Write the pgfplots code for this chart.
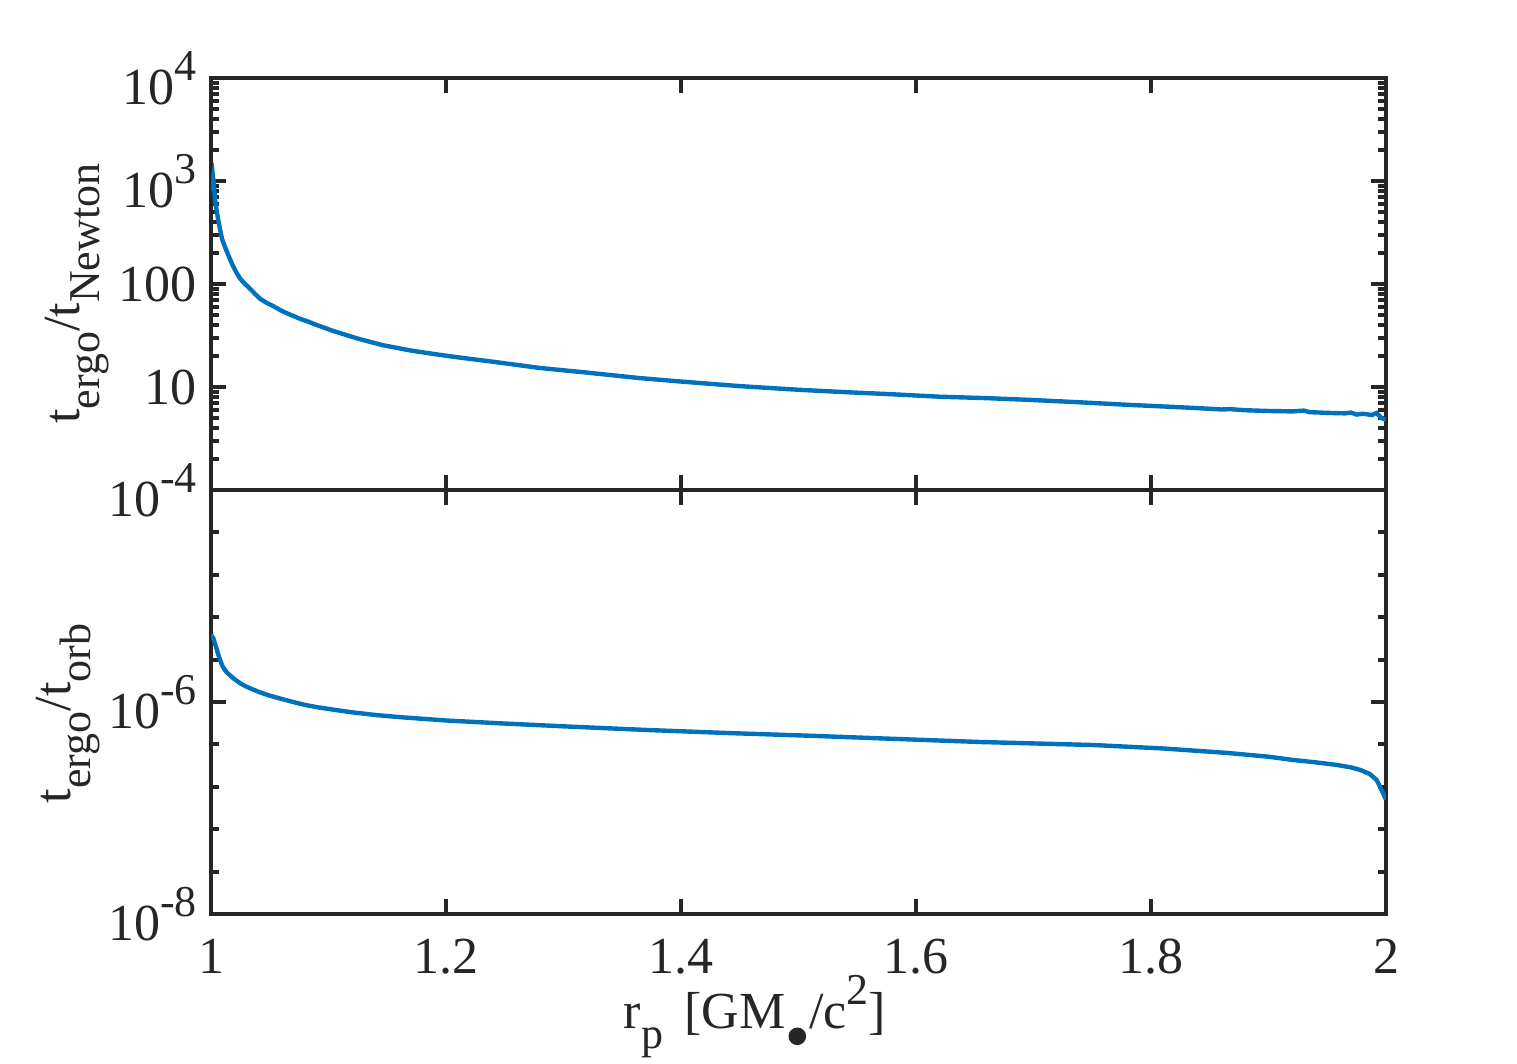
\documentclass[border=0pt]{standalone}
\usepackage{pgfplots}
\pgfplotsset{compat=1.18}
\usepackage{fontspec}
\setmainfont{Liberation Serif}
\definecolor{axgray}{HTML}{262626}
\definecolor{mblue}{HTML}{0072BD}
\newcommand{\sps}[1]{\raisebox{6pt}{\fontsize{11}{13}\selectfont #1}}
\newcommand{\sbs}[1]{\raisebox{-5pt}{\fontsize{11}{13}\selectfont #1}}
\newcommand{\subbullet}{\hspace{0.8pt}\smash{\raisebox{-4.25pt}{\tikz\fill[axgray] (0,0) circle (2.2pt);}}\hspace{0.8pt}}
\pgfplotsset{
  every axis/.append style={
    font=\fontsize{13}{15}\selectfont,
    scale only axis,
    anchor=south west,
    width=293.75pt,
    xmin=1, xmax=2,
    ymode=log,
    tick align=inside,
    xtick pos=both, ytick pos=both,
    major tick length=3.75pt,
    minor tick length=2pt,
    axis line style={draw=axgray, line width=1pt},
    every tick/.style={axgray, line width=1pt},
    every minor tick/.style={axgray, line width=1pt},
    tick label style={font=\fontsize{13}{15}\selectfont, text=axgray},
    label style={font=\fontsize{13}{15}\selectfont, text=axgray},
    /pgf/number format/assume math mode=true,
    xtick={1,1.2,1.4,1.6,1.8,2},
    clip=true,
  }
}
\begin{document}
\begin{tikzpicture}
% bottom panel
\begin{axis}[
  at={(52.75pt,37.25pt)},
  height=106pt,
  ymin=1e-8, ymax=1e-4,
  ytick={1e-8,1e-6,1e-4},
  yticklabels={10\sps{-8},10\sps{-6},10\sps{-4}},
  minor ytick={3.981e-5,1.585e-5,6.310e-6,2.512e-6,3.981e-7,1.585e-7,6.310e-8,2.512e-8},
  xticklabels={1,1.2,1.4,1.6,1.8,2},
  xticklabel style={yshift=-2.7pt},
  xlabel={r\sbs{p}\hspace{2pt} [GM\subbullet/c\sps{2}]},
  xlabel style={at={(axis description cs:0.463,-0.269)}, anchor=base, inner sep=1pt},
  ylabel={t\sbs{ergo}/t\sbs{orb}},
  ylabel style={at={(axis description cs:-0.12,0.473)}, anchor=base},
]
\addplot[mblue, line width=1.1pt] coordinates {
(1.0000,4.3e-6) (1.0020,4.0e-6) (1.0040,3.4e-6) (1.0060,2.85e-6) (1.0080,2.45e-6)
(1.0100,2.15e-6) (1.0130,1.93e-6) (1.0170,1.75e-6) (1.0210,1.61e-6) (1.0250,1.5e-6)
(1.0300,1.4e-6) (1.0360,1.31e-6) (1.0420,1.23e-6) (1.0500,1.15e-6) (1.0600,1.07e-6)
(1.0700,1.0e-6) (1.0800,9.4e-7) (1.0900,8.95e-7) (1.1050,8.45e-7) (1.1200,8.0e-7)
(1.1400,7.55e-7) (1.1610,7.2e-7) (1.2000,6.7e-7) (1.2460,6.3e-7)
(1.3000,5.9e-7) (1.3710,5.45e-7) (1.4400,5.1e-7) (1.5120,4.8e-7) (1.5800,4.5e-7)
(1.6540,4.2e-7) (1.7000,4.07e-7) (1.7510,3.93e-7) (1.8100,3.65e-7) (1.8650,3.31e-7)
(1.9000,3.05e-7) (1.9210,2.84e-7) (1.9400,2.7e-7) (1.9580,2.55e-7) (1.9700,2.42e-7)
(1.9780,2.29e-7) (1.9860,2.1e-7) (1.9920,1.84e-7) (1.9960,1.5e-7) (2.0000,1.2e-7)
};
\end{axis}
% top panel
\begin{axis}[
  at={(52.75pt,143.25pt)},
  height=103pt,
  ymin=1, ymax=1e4,
  ytick={1,10,100,1000,10000},
  yticklabels={,10,100,10\sps{3},10\sps{4}},
  minor ytick={2,3,4,5,6,7,8,9,20,30,40,50,60,70,80,90,200,300,400,500,600,700,800,900,2000,3000,4000,5000,6000,7000,8000,9000},
  xticklabels={},
  ylabel={t\sbs{ergo}/t\sbs{Newton}},
  ylabel style={at={(axis description cs:-0.1115,0.477)}, anchor=base},
]
\addplot[mblue, line width=1.1pt] coordinates {
(1.0000,800) (1.0010,1000) (1.0017,1100) (1.0025,900) (1.0034,667)
(1.0047,530) (1.0060,428) (1.0077,340) (1.0094,274) (1.0115,235)
(1.0136,205) (1.0160,176) (1.0187,150) (1.0215,130) (1.0247,113)
(1.0290,100) (1.0332,90) (1.0375,80) (1.0417,72) (1.0470,66)
(1.0530,61) (1.0600,55) (1.0680,50) (1.0757,46) (1.0830,43)
(1.0900,40) (1.1040,35) (1.1250,29.5) (1.1460,25.5) (1.1700,22.6)
(1.1950,20.5) (1.2120,19.3) (1.2400,17.6) (1.2800,15.3) (1.3200,13.8)
(1.3650,12.2) (1.4000,11.3) (1.4500,10.2) (1.5000,9.4) (1.5350,8.97)
(1.5800,8.5) (1.6200,8.05) (1.6600,7.8) (1.6970,7.5) (1.7400,7.1)
(1.7820,6.7) (1.8200,6.4) (1.8500,6.15) (1.8600,6.05) (1.8670,6.1)
(1.8800,5.95) (1.9000,5.85) (1.9200,5.8) (1.9300,5.9) (1.9350,5.7)
(1.9520,5.6) (1.9650,5.55) (1.9700,5.65) (1.9750,5.4) (1.9800,5.5)
(1.9880,5.35) (1.9920,5.6) (1.9960,5.0) (2.0000,4.8)
};
\end{axis}
\pgfresetboundingbox
\path (0,0) rectangle (379.25pt,265.75pt);
\end{tikzpicture}
\end{document}
